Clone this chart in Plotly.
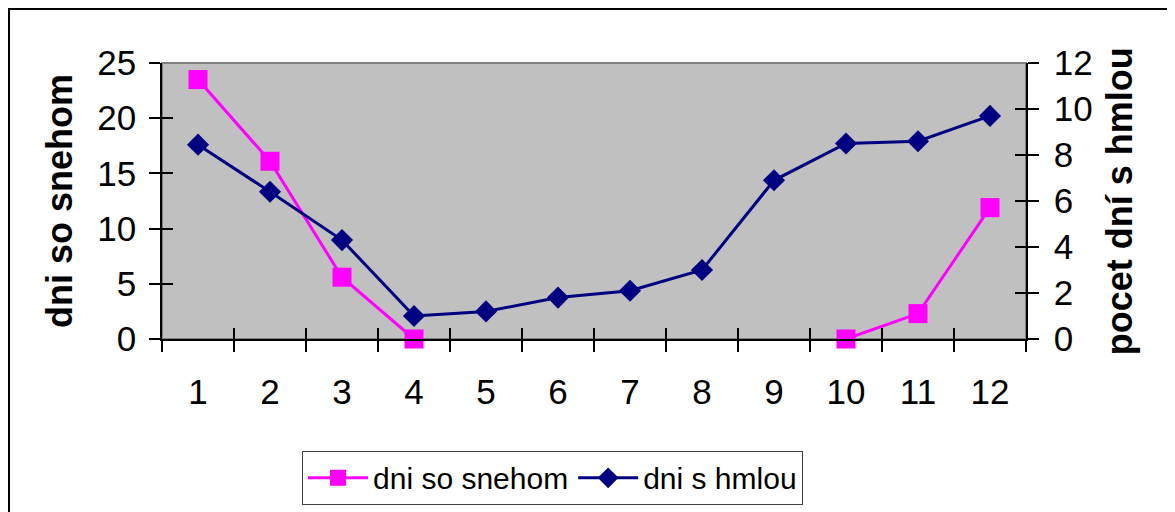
import plotly.graph_objects as go

months = ["1", "2", "3", "4", "5", "6", "7", "8", "9", "10", "11", "12"]
snow_days = [23.5, 16.1, 5.6, 0.0, None, None, None, None, None, 0.0, 2.3, 11.9]
fog_days = [8.45, 6.4, 4.3, 1.0, 1.2, 1.8, 2.1, 3.0, 6.9, 8.5, 8.6, 9.7]

left_title = "dni so snehom"
right_title = "pocet dní s hmlou"

FONT = "Liberation Sans, Arial, sans-serif"
PINK = "#FF00FF"
NAVY = "#000080"

fig = go.Figure()

fig.add_trace(go.Scatter(
    x=months, y=snow_days, name="dni so snehom", mode="lines+markers",
    line=dict(color=PINK, width=3),
    marker=dict(symbol="square", size=19, color=PINK),
    connectgaps=False, xaxis="x", yaxis="y", cliponaxis=False,
))
fig.add_trace(go.Scatter(
    x=months, y=fog_days, name="dni s hmlou", mode="lines+markers",
    line=dict(color=NAVY, width=3),
    marker=dict(symbol="diamond", size=17, color=NAVY),
    xaxis="x", yaxis="y2", cliponaxis=False,
))
# helper (invisible) traces for the inner halves of the crossing tick marks
fig.add_trace(go.Scatter(x=months, y=[None] * 12, xaxis="x3", yaxis="y3",
                         showlegend=False, hoverinfo="skip", mode="lines"))
fig.add_trace(go.Scatter(x=months, y=[None] * 12, xaxis="x", yaxis="y4",
                         showlegend=False, hoverinfo="skip", mode="lines"))

tickfont = dict(family=FONT, size=35, color="black")
titlefont = dict(family=FONT, size=36, color="black", weight="bold")

fig.update_layout(
    width=1175, height=512,
    margin=dict(l=154, r=157, t=55, b=181, autoexpand=False),
    paper_bgcolor="white",
    plot_bgcolor="#C0C0C0",
    showlegend=True,
    legend=dict(
        orientation="h", x=0.452, xanchor="center", y=-0.405, yanchor="top",
        font=dict(family=FONT, size=30, color="black"),
        bordercolor="#404040", borderwidth=1, bgcolor="white",
        itemwidth=60, tracegroupgap=0,
    ),
    xaxis=dict(
        type="category", range=[-0.5, 11.5], autorange=False,
        tickson="boundaries", ticks="outside", ticklen=11,
        tickwidth=1.5, tickcolor="black", showgrid=False, zeroline=False,
        showline=True, linecolor="black", linewidth=1.5, automargin=False,
        tickfont=tickfont, ticklabelstandoff=21,
    ),
    xaxis3=dict(
        type="category", range=[-0.5, 11.5], autorange=False,
        overlaying="x", anchor="y", tickson="boundaries",
        ticks="inside", ticklen=11, tickwidth=1.5, tickcolor="black",
        showticklabels=False, showgrid=False, zeroline=False, automargin=False,
    ),
    yaxis=dict(
        range=[0, 25], autorange=False, dtick=5, ticks="outside", ticklen=11,
        tickwidth=1.5, tickcolor="black", showgrid=False, zeroline=False,
        showline=True, linecolor="black", linewidth=1.5, automargin=False,
        tickfont=tickfont, ticklabelstandoff=6,
        title=dict(text=left_title, font=titlefont, standoff=14),
    ),
    yaxis3=dict(
        range=[0, 25], autorange=False, dtick=5, overlaying="y", anchor="x",
        side="left", ticks="inside", ticklen=11, tickwidth=1.5,
        tickcolor="black", showticklabels=False, showgrid=False,
        zeroline=False, automargin=False,
    ),
    yaxis2=dict(
        range=[0, 12], autorange=False, dtick=2, overlaying="y", anchor="x",
        side="right", ticks="outside", ticklen=11, tickwidth=1.5,
        tickcolor="black", showgrid=False, zeroline=False,
        showline=True, linecolor="black", linewidth=1.5, automargin=False,
        tickfont=tickfont, ticklabelstandoff=8,
    ),
    yaxis4=dict(
        range=[0, 12], autorange=False, dtick=2, overlaying="y", anchor="x",
        side="right", ticks="inside", ticklen=11, tickwidth=1.5,
        tickcolor="black", showticklabels=False, showgrid=False,
        zeroline=False, automargin=False,
    ),
    annotations=[
        dict(text=f"<b>{right_title}</b>", xref="paper", yref="paper",
             x=1.108, y=0.5, xanchor="center", yanchor="middle",
             textangle=-90, showarrow=False, font=titlefont),
    ],
    shapes=[
        # grey plot-area border
        dict(type="rect", xref="paper", yref="paper", x0=0, x1=1, y0=0, y1=1,
             line=dict(color="#808080", width=2), layer="below"),
        # outer chart frame (extends beyond the visible page)
        dict(type="rect", xref="paper", yref="paper", x0=-0.1771, x1=1.25,
             y0=-0.8, y1=1.1957, line=dict(color="black", width=2)),
    ],
)

fig.write_html("out.html")
